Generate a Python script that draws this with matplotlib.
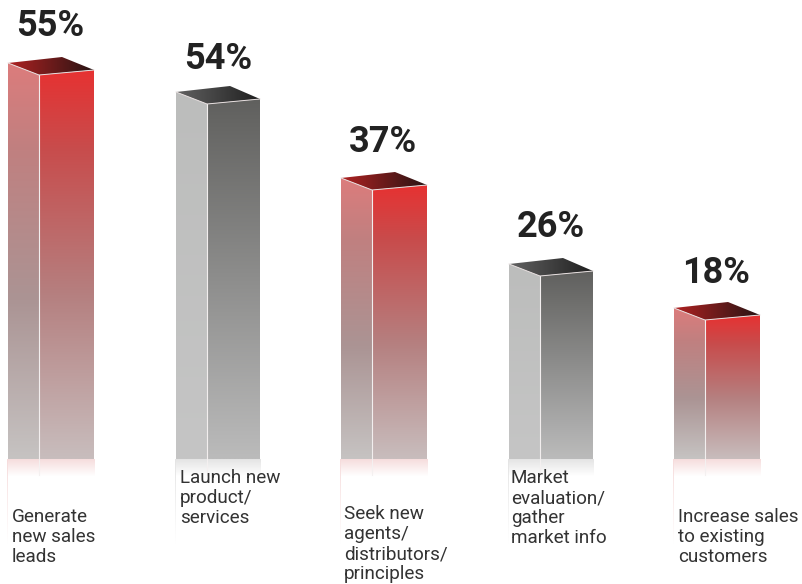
#!/usr/bin/env python3
import numpy as np
import matplotlib
matplotlib.use('Agg')
import matplotlib.pyplot as plt
from matplotlib.colors import LinearSegmentedColormap
from matplotlib.patches import Polygon

# percentages printed above the bars
percents = [55, 54, 37, 26, 18]
# the drawn heights do not follow the percentages
drawn_heights = [396, 367, 281, 195, 151]
categories = [
    'Generate\nnew sales\nleads',
    'Launch new\nproduct/\nservices',
    'Seek new\nagents/\ndistributors/\nprinciples',
    'Market\nevaluation/\ngather\nmarket info',
    'Increase sales\nto existing\ncustomers',
]

bar_lefts = [8, 176, 341, 509, 674]
bar_widths = [86, 84, 86, 84, 86]
pct_gaps = [27, 23, 26, 27, 25]
label_lefts = [12, 180, 344, 511, 678]
label_tops = [508, 469, 505, 469, 508]
is_red = [True, False, True, False, True]

left_w, back_dx, back_dy = 31, 54, 6
BASE = 459

RED = dict(left=[(0, '#dc7c7c'), (0.22, '#c08080'), (0.6, '#ab9494'), (1, '#c6c3c2')],
           right=[(0, '#e63232'), (0.2, '#c84c4c'), (0.58, '#b58080'), (1, '#c8bdbd')],
           top=['#b02222', '#281414'], glow='#f6dcdc')
GREY = dict(left=['#bcbdbc', '#c5c5c5'], right=['#60605e', '#bbbbbb'],
            top=['#626262', '#1f1f1f'], glow='#e4e4e4')

fig = plt.figure(figsize=(8.02, 5.84), dpi=100)
ax = fig.add_axes([0, 0, 1, 1])
ax.set_xlim(0, 802)
ax.set_ylim(BASE - 584, BASE)
ax.axis('off')


def grad_poly(pts, colors, vertical=True, z=2):
    pts = np.array(pts, dtype=float)
    cmap = LinearSegmentedColormap.from_list('g', colors)
    g = np.linspace(0, 1, 256)
    g = g[:, None] if vertical else g[None, :]
    x0, x1 = pts[:, 0].min(), pts[:, 0].max()
    y0, y1 = pts[:, 1].min(), pts[:, 1].max()
    im = ax.imshow(g, cmap=cmap, extent=(x0, x1, y0, y1), origin='upper',
                   aspect='auto', zorder=z, interpolation='bilinear')
    p = Polygon(pts, closed=True, transform=ax.transData, fc='none', ec='none')
    ax.add_patch(p)
    im.set_clip_path(p)


for pct, h, cat, x, w, gap, lx, ltop, red in zip(
        percents, drawn_heights, categories, bar_lefts, bar_widths,
        pct_gaps, label_lefts, label_tops, is_red):
    st = RED if red else GREY
    xm, xr = x + left_w, x + w
    top_l = h
    top_f = h - 12
    top_r = h - 7
    top_b = h + back_dy

    grad_poly([(x, 0), (xm, 0), (xm, top_f), (x, top_l)], st['left'])
    grad_poly([(xm, 0), (xr, 0), (xr, top_r), (xm, top_f)], st['right'])
    grad_poly([(x, top_l), (x + back_dx, top_b), (xr, top_r), (xm, top_f)],
              st['top'], vertical=False)

    # thin light edges
    ax.plot([xm, xm], [0, top_f], color='#f2eeee', lw=0.8, zorder=3)
    ax.plot([x, xm, xr], [top_l, top_f, top_r], color='#e8e0e0', lw=0.7, zorder=3)

    # reflection under the bar
    grad_poly([(x - 1, 0), (xr + 1, 0), (xr + 1, -17), (x - 1, -17)],
              [st['glow'], '#ffffff'], z=1)
    ax.plot([xm, xm], [0, -16], color='#f4f0f0', lw=0.8, zorder=1.5)
    grad_poly([(x - 1, 0), (x, 0), (x, -85), (x - 1, -85)],
              [st['glow'], '#ffffff'], z=1)

    ax.text(x + 42, h + gap, '%d%%' % pct, ha='center', va='baseline',
            fontsize=26, fontweight='bold', family='Roboto', color='#222222',
            zorder=5)
    ax.text(lx, BASE - ltop, cat, ha='left', va='top', fontsize=13.6,
            family='Roboto', color='#333333', linespacing=1.15, zorder=5)

ax.set_xlim(0, 802)
ax.set_ylim(BASE - 584, BASE)
fig.savefig('out.png', dpi=100)
